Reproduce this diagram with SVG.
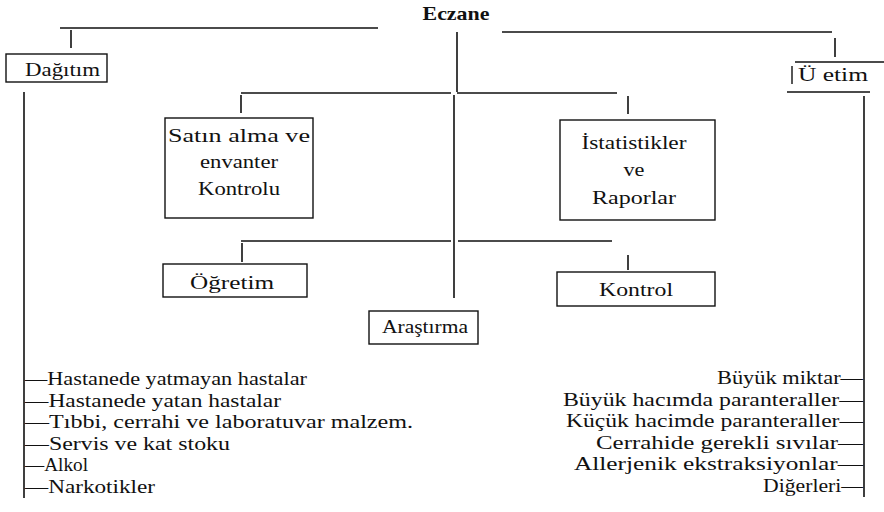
<svg xmlns="http://www.w3.org/2000/svg" width="884" height="512" viewBox="0 0 884 512">
<style>
  .ln { stroke: #111; stroke-width: 1.6; fill: none; stroke-linecap: butt; }
  .bx { stroke: #111; stroke-width: 1.4; fill: none; }
  .t { font-size: 19px; fill: #111; }
  .c { text-anchor: middle; }
  .r { text-anchor: end; }
</style>
<rect width="884" height="512" fill="#fff"/>
<g id="connectors">
  <path class="ln" d="M60 28 H378 M71 30 V48"/>
  <path class="ln" d="M502 32 H832 M835 38 V57"/>
  <path class="ln" d="M457 32 V92 M454 95 V298"/>
  <path class="ln" d="M241 93 H451 M457 93 H617 M241 95 V113 M628 96 V114"/>
  <path class="ln" d="M241 241 H451 M458 241 H612 M242 243 V262 M628 255 V270"/>
  <path class="ln" d="M24 92 V498 M864 96 V497"/>
</g>
<g font-family="Liberation Serif, DejaVu Serif, serif">
<g id="eczane">
  <text class="t c" x="456" y="20" font-weight="bold" textLength="67" lengthAdjust="spacingAndGlyphs">Eczane</text>
</g>
<g id="dagitim">
  <rect class="bx" x="6" y="54" width="101" height="28"/>
  <text class="t" x="25" y="76" textLength="75" lengthAdjust="spacingAndGlyphs">Dağıtım</text>
</g>
<g id="uretim">
  <path class="bx" d="M795 62 H884 M787 92 H870 M792 66 V84"/>
  <text class="t" x="798" y="81" textLength="70" lengthAdjust="spacingAndGlyphs">Ü etim</text>
</g>
<g id="satin-alma">
  <rect class="bx" x="165" y="118" width="148" height="100"/>
  <text class="t" x="168" y="142" textLength="142" lengthAdjust="spacingAndGlyphs">Satın alma ve</text>
  <text class="t c" x="239" y="168" textLength="78" lengthAdjust="spacingAndGlyphs">envanter</text>
  <text class="t c" x="239" y="195" textLength="82" lengthAdjust="spacingAndGlyphs">Kontrolu</text>
</g>
<g id="istatistikler">
  <rect class="bx" x="560" y="120" width="155" height="100"/>
  <text class="t c" x="634" y="149" textLength="105" lengthAdjust="spacingAndGlyphs">İstatistikler</text>
  <text class="t c" x="634" y="176" textLength="21" lengthAdjust="spacingAndGlyphs">ve</text>
  <text class="t c" x="634" y="204" textLength="84" lengthAdjust="spacingAndGlyphs">Raporlar</text>
</g>
<g id="ogretim">
  <rect class="bx" x="163" y="264" width="144" height="33"/>
  <text class="t c" x="232" y="289" textLength="84" lengthAdjust="spacingAndGlyphs">Öğretim</text>
</g>
<g id="arastirma">
  <rect class="bx" x="369" y="311" width="109" height="33"/>
  <text class="t c" x="425" y="333" textLength="86" lengthAdjust="spacingAndGlyphs">Araştırma</text>
</g>
<g id="kontrol">
  <rect class="bx" x="557" y="272" width="158" height="34"/>
  <text class="t c" x="636" y="296" textLength="74" lengthAdjust="spacingAndGlyphs">Kontrol</text>
</g>
<g id="dagitim-list">
  <text class="t" x="25" y="385" textLength="282" lengthAdjust="spacingAndGlyphs">—Hastanede yatmayan hastalar</text>
  <text class="t" x="25" y="407" textLength="256" lengthAdjust="spacingAndGlyphs">—Hastanede yatan hastalar</text>
  <text class="t" x="25" y="428" textLength="388" lengthAdjust="spacingAndGlyphs">—Tıbbi, cerrahi ve laboratuvar malzem.</text>
  <text class="t" x="25" y="450" textLength="205" lengthAdjust="spacingAndGlyphs">—Servis ve kat stoku</text>
  <text class="t" x="25" y="471" textLength="63" lengthAdjust="spacingAndGlyphs">—Alkol</text>
  <text class="t" x="25" y="493" textLength="130" lengthAdjust="spacingAndGlyphs">—Narkotikler</text>
</g>
<g id="uretim-list">
  <text class="t r" x="863" y="384" textLength="146" lengthAdjust="spacingAndGlyphs">Büyük miktar—</text>
  <text class="t r" x="863" y="406" textLength="300" lengthAdjust="spacingAndGlyphs">Büyük hacımda paranteraller—</text>
  <text class="t r" x="863" y="427" textLength="297" lengthAdjust="spacingAndGlyphs">Küçük hacimde paranteraller—</text>
  <text class="t r" x="863" y="449" textLength="267" lengthAdjust="spacingAndGlyphs">Cerrahide gerekli sıvılar—</text>
  <text class="t r" x="863" y="470" textLength="289" lengthAdjust="spacingAndGlyphs">Allerjenik ekstraksiyonlar—</text>
  <text class="t r" x="863" y="492" textLength="100" lengthAdjust="spacingAndGlyphs">Diğerleri—</text>
</g>
</g>
</svg>
